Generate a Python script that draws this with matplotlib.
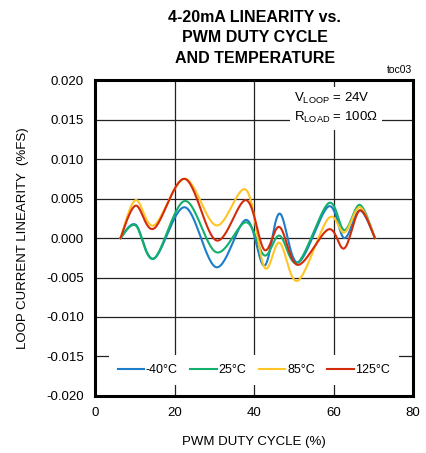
import numpy as np
import matplotlib
matplotlib.use('Agg')
import matplotlib.pyplot as plt

plt.rcParams['font.family'] = ['Liberation Sans', 'DejaVu Sans']

duty = [6.4, 10.2, 14.8, 22.6, 30.5, 38.0, 42.6, 46.4, 51.0, 58.7, 62.7, 66.6, 70.4]
lin_m40 = [0.0, 0.0017, -0.0026, 0.0039, -0.0037, 0.0023, -0.0035, 0.0031, -0.0031, 0.0040, 0.0000, 0.0035, 0.0]
lin_25 = [0.0, 0.0016, -0.0026, 0.0047, -0.0018, 0.0020, -0.0022, 0.0003, -0.0031, 0.0044, 0.0010, 0.0042, 0.0]
lin_85 = [0.0, 0.0048, 0.0016, 0.0075, 0.0016, 0.0061, -0.0037, -0.0006, -0.0054, 0.0025, 0.0007, 0.0039, 0.0]
lin_125 = [0.0, 0.0041, 0.0012, 0.0075, -0.0003, 0.0048, -0.0015, 0.0014, -0.0034, 0.0011, -0.0013, 0.0035, 0.0]

labels = ['-40°C', '25°C', '85°C', '125°C']
colors = ['#1C7DC8', '#12B06A', '#FFC425', '#D42B0C']


def smooth(x, y, n=30):
    # catmull-rom through the points, like excel's smoothed line
    p = np.column_stack([x, y])
    p = np.vstack([p[0], p, p[-1]])
    out = []
    t = np.linspace(0, 1, n, endpoint=False)[:, None]
    for i in range(1, len(p) - 2):
        p0, p1, p2, p3 = p[i - 1], p[i], p[i + 1], p[i + 2]
        seg = 0.5 * ((2 * p1) + (-p0 + p2) * t + (2 * p0 - 5 * p1 + 4 * p2 - p3) * t ** 2
                     + (-p0 + 3 * p1 - 3 * p2 + p3) * t ** 3)
        out.append(seg)
    out.append(p[-2][None, :])
    out = np.vstack(out)
    return out[:, 0], out[:, 1]


fig = plt.figure(figsize=(4.27, 4.53), dpi=100)
ax = fig.add_axes([0.2225, 0.126, 0.745, 0.697])

for ys, lab, c in zip([lin_m40, lin_25, lin_85, lin_125], labels, colors):
    sx, sy = smooth(duty, ys)
    ax.plot(sx, sy, color=c, lw=1.5, label=lab)

ax.set_xlim(0, 80)
ax.set_ylim(-0.020, 0.020)
ax.set_xticks([0, 20, 40, 60, 80])
ax.set_yticks(np.arange(-0.020, 0.0201, 0.005))
ax.set_yticklabels(['%.3f' % v for v in np.arange(-0.020, 0.0201, 0.005)])
ax.grid(True, color='#222222', lw=0.9)
ax.tick_params(direction='in', length=0, labelsize=9.5, pad=8)
for s in ax.spines.values():
    s.set_linewidth(2.2)

ax.set_xlabel('PWM DUTY CYCLE (%)', fontsize=9.5, labelpad=12)
ax.set_ylabel('LOOP CURRENT LINEARITY  (%FS)', fontsize=9.5, labelpad=12)

fig.text(0.597, 0.978, '4-20mA LINEARITY vs.\nPWM DUTY CYCLE\nAND TEMPERATURE',
         ha='center', va='top', fontsize=11.5, fontweight='bold', linespacing=1.45)
fig.text(0.965, 0.835, 'toc03', ha='right', va='bottom', fontsize=7.5)

ax.text(0.625, 0.965, '$\\mathregular{V_{LOOP}}$ = 24V\n$\\mathregular{R_{LOAD}}$ = 100Ω',
        transform=ax.transAxes, ha='left', va='top', fontsize=9.5, linespacing=1.35,
        bbox=dict(fc='white', ec='none', pad=3))

leg = ax.legend(loc='lower center', ncol=4, fontsize=9, frameon=True, fancybox=False,
                handlelength=2.1, handletextpad=0.15, columnspacing=1.0,
                bbox_to_anchor=(0.5, 0.015), borderpad=0.7)
leg.get_frame().set_facecolor('white')
leg.get_frame().set_edgecolor('none')
leg.get_frame().set_alpha(1)

fig.savefig('out.png', dpi=100)
